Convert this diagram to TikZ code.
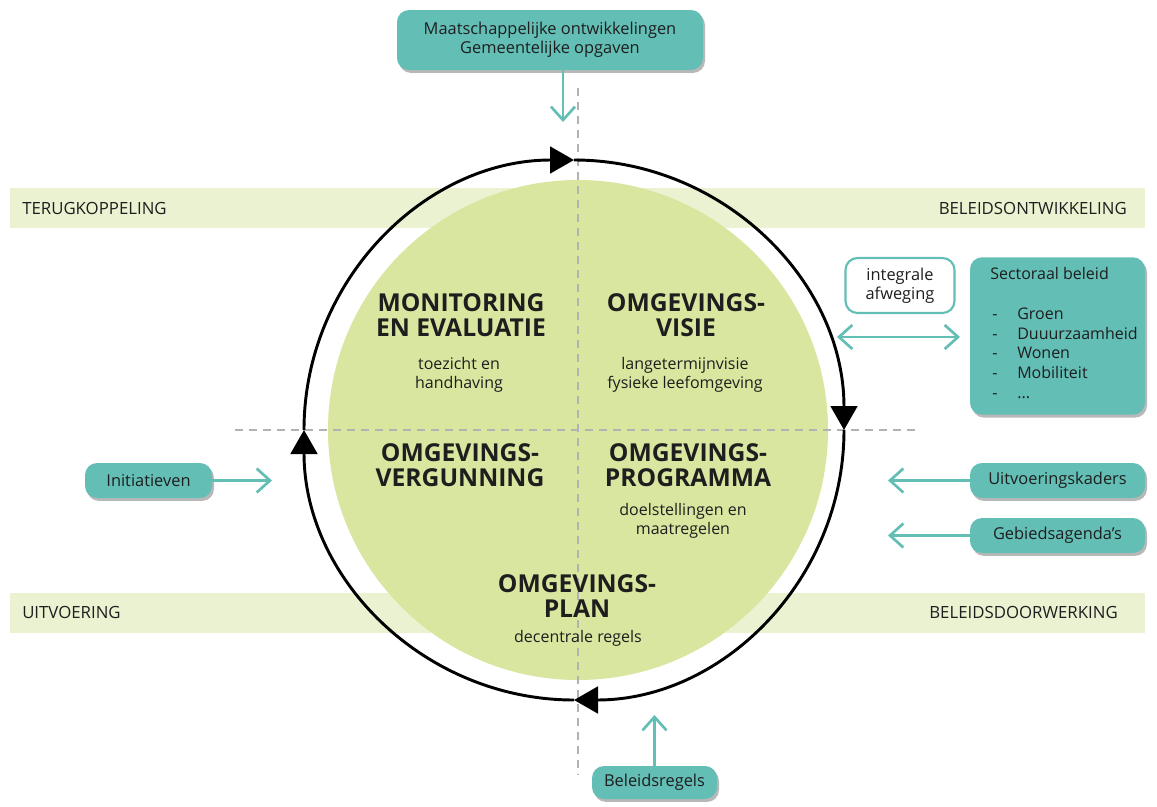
\documentclass[tikz,border=0pt]{standalone}
\usepackage{fontspec}
\setmainfont{Open Sans}
\usetikzlibrary{arrows.meta,shadows}
\definecolor{tealc}{RGB}{99,190,181}
\definecolor{greenc}{RGB}{217,230,160}
\definecolor{bandc}{RGB}{235,242,209}
\definecolor{txtc}{RGB}{30,30,30}
\definecolor{dashc}{RGB}{178,178,178}
\begin{document}
\begin{tikzpicture}[x=0.75pt,y=-0.75pt,
  box/.style={fill=tealc, rounded corners=9pt, inner sep=0pt, text=txtc, align=center,
    font=\fontsize{12.3}{14.25}\selectfont,
    drop shadow={shadow xshift=1.5pt, shadow yshift=-2.2pt, fill=black, opacity=0.28}},
  obox/.style={draw=tealc, line width=1.6pt, fill=white, rounded corners=9pt, inner sep=0pt,
    text=txtc, align=center, font=\fontsize{12.3}{14.25}\selectfont},
  bandlabel/.style={inner sep=0pt, text=txtc, font=\fontsize{12.6}{14}\selectfont},
  head/.style={inner sep=0pt, align=center, text=txtc, font=\fontsize{18.5}{18.75}\selectfont\bfseries},
  sub/.style={inner sep=0pt, align=center, text=txtc, font=\fontsize{12}{14.25}\selectfont},
  circ/.style={draw=black, line width=2.2pt, -{Triangle[length=18pt,width=20pt]}},
  tarrow/.style={draw=tealc, line width=2pt, -{Straight Barb[length=10pt,width=18pt,line width=2pt]}},
  dashline/.style={draw=dashc, line width=0.8pt, dash pattern=on 6pt off 4.5pt}
]
\useasboundingbox (0,0) rectangle (1157,807);
\fill[white] (0,0) rectangle (1157,807);

% bands
\fill[bandc] (10,188) rectangle (1145,228);
\fill[bandc] (10,593) rectangle (1145,633);

% green disk
\fill[greenc] (578,430) circle[radius=250];

% dashed axes
\coordinate (vtop) at (578,88);
\coordinate (vbot) at (578,775);
\coordinate (hleft) at (235,430);
\coordinate (hright) at (918,430);
\draw[dashline] (vtop) -- (vbot);
\draw[dashline] (hleft) -- (hright);

% band labels
\node[bandlabel, anchor=west] (terug) at (22,208.5) {TERUGKOPPELING};
\node[bandlabel, anchor=east] (beleidsontw) at (1127,208.5) {BELEIDSONTWIKKELING};
\node[bandlabel, anchor=west] (uitvoering) at (22,612.5) {UITVOERING};
\node[bandlabel, anchor=east] (beleidsdoor) at (1118,612.5) {BELEIDSDOORWERKING};

% cycle circle with arrowheads
\coordinate (cc) at (574,430);
\draw[circ] (cc) ++(270:270) arc[start angle=270, end angle=360, radius=270];
\draw[circ] (cc) ++(0:270) arc[start angle=0, end angle=90, radius=270];
\draw[circ] (cc) ++(90:270) arc[start angle=90, end angle=180, radius=270];
\draw[circ] (cc) ++(180:270) arc[start angle=180, end angle=270, radius=270];

% quadrant texts
\node[head] (mon) at (461,315) {MONITORING\\EN EVALUATIE};
\node[sub] (monsub) at (459,375) {toezicht en\\handhaving};
\node[head] (vis) at (686,315) {OMGEVINGS-\\VISIE};
\node[sub] (vissub) at (685,375) {langetermijnvisie\\fysieke leefomgeving};
\node[head] (verg) at (460,465) {OMGEVINGS-\\VERGUNNING};
\node[head] (prog) at (688,465) {OMGEVINGS-\\PROGRAMMA};
\node[sub] (progsub) at (683,521) {doelstellingen en\\maatregelen};
\node[head] (plan) at (577,596) {OMGEVINGS-\\PLAN};
\node[sub] (plansub) at (578,638) {decentrale regels};

% boxes
\node[box, minimum width=229.5pt, minimum height=45pt] (top) at (550,40)
  {Maatschappelijke ontwikkelingen\\Gemeentelijke opgaven};
\node[obox, minimum width=81.75pt, minimum height=41.25pt] (integraal) at (900,285.5)
  {integrale\\afweging};
\node[box, minimum width=131.25pt, minimum height=118pt] (sector) at (1057.5,336) {};
\node[inner sep=0pt, anchor=north west, align=left, text=txtc,
  font=\fontsize{12}{14.8}\selectfont] (sectortxt) at (990,267.5)
  {Sectoraal beleid\\[14.8pt]
   \hspace*{1.5pt}\makebox[18.75pt][l]{-}Groen\\
   \hspace*{1.5pt}\makebox[18.75pt][l]{-}Duuurzaamheid\\
   \hspace*{1.5pt}\makebox[18.75pt][l]{-}Wonen\\
   \hspace*{1.5pt}\makebox[18.75pt][l]{-}Mobiliteit\\
   \hspace*{1.5pt}\makebox[18.75pt][l]{-}...};
\node[box, minimum width=131.25pt, minimum height=26.25pt] (uitv) at (1057.5,480.5) {Uitvoeringskaders};
\node[box, minimum width=131.25pt, minimum height=26.25pt] (gebied) at (1057.5,535.5) {Gebiedsagenda’s};
\node[box, minimum width=95.25pt, minimum height=26.25pt] (init) at (148.5,480.5) {Initiatieven};
\node[box, minimum width=93.75pt, minimum height=24.75pt] (beleid) at (654.5,782.5) {Beleidsregels};

% teal arrows
\coordinate (topTip) at (563,122);
\coordinate (dblL) at (837,337);
\coordinate (dblR) at (960,337);
\coordinate (uitvTip) at (888,480.5);
\coordinate (gebTip) at (888,535.5);
\coordinate (initTip) at (272,480.5);
\coordinate (belTip) at (654.5,715);
\draw[tarrow] (top.south -| topTip) -- (topTip);
\draw[tarrow, {Straight Barb[length=10pt,width=18pt,line width=2pt]}-{Straight Barb[length=10pt,width=18pt,line width=2pt]}] (dblL) -- (dblR);
\draw[tarrow] (uitv.west) -- (uitvTip);
\draw[tarrow] (gebied.west) -- (gebTip);
\draw[tarrow] (init.east) -- (initTip);
\draw[tarrow] (beleid.north) -- (belTip);
\end{tikzpicture}
\end{document}
